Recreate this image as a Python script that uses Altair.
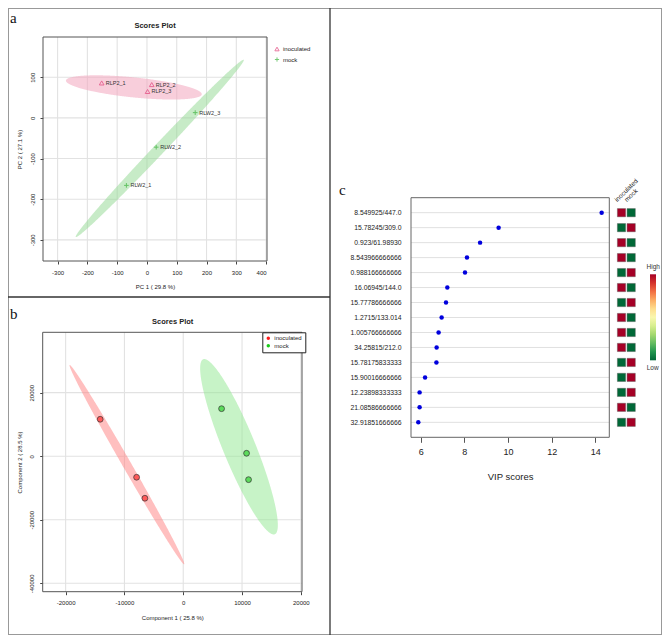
import math
import numpy as np
import pandas as pd
import altair as alt

# ---------------- data ----------------
# Panel a : PCA scores plot
pca_samples = ["RLP2_1", "RLP2_2", "RLP2_3", "RLW2_1", "RLW2_2", "RLW2_3"]
pca_groups = ["inoculated", "inoculated", "inoculated", "mock", "mock", "mock"]
pca_pc1 = [-152, 16, 2, -69, 31, 162]
pca_pc2 = [86, 82, 65, -166, -72, 13]
pca_xticks = [-300, -200, -100, 0, 100, 200, 300, 400]
pca_yticks = [-300, -200, -100, 0, 100]
pca_xdomain = [-349, 403]
pca_ydomain = [-352, 199]
# confidence ellipses: centre, vector to the tip of the long axis, half-width vector
pca_ell_inoc = {"c": (-44, 75), "u": (228, -17), "v": (-3.4, -24.5)}
pca_ell_mock = {"c": (43, -75), "u": (282, 218), "v": (13.3, -9.2)}

# Panel b : PLS-DA scores plot
pls_groups = ["inoculated", "inoculated", "inoculated", "mock", "mock", "mock"]
pls_c1 = [-14120, -7930, -6520, 6520, 10770, 11110]
pls_c2 = [11630, -6620, -13230, 14965, 930, -7375]
pls_xticks = [-20000, -10000, 0, 10000, 20000]
pls_yticks = [-40000, -20000, 0, 20000]
pls_xdomain = [-23900, 20200]
pls_ydomain = [-42640, 39000]
pls_ell_inoc = {"c": (-9580, -2642), "u": (-9740, 31358), "v": (634, 674)}
pls_ell_mock = {"c": (9484, 2977), "u": (-6094, 27533), "v": (2550, 1932)}

# Panel c : VIP scores
vip_features = ["8.549925/447.0", "15.78245/309.0", "0.923/61.98930", "8.543966666666",
                "0.988166666666", "16.06945/144.0", "15.77786666666", "1.2715/133.014",
                "1.005766666666", "34.25815/212.0", "15.78175833333", "15.90016666666",
                "12.23898333333", "21.08586666666", "32.91851666666"]
vip_scores = [14.29, 9.57, 8.72, 8.12, 8.03, 7.22, 7.16, 6.96, 6.82, 6.73, 6.72, 6.20, 5.95, 5.95, 5.89]
heat_groups = ["inoculated", "mock"]
heat_inoculated = [1, 0, 1, 1, 0, 1, 0, 1, 1, 1, 0, 0, 0, 1, 0]
heat_mock = [0, 1, 0, 0, 1, 0, 1, 0, 0, 0, 1, 1, 1, 0, 1]
vip_xticks = [6, 8, 10, 12, 14]
vip_xdomain = [5.556, 14.64]

# ---------------- layout (pixels) ----------------
W, H = 654, 627
A_X, A_Y = [35, 259], [253, 29]
B_X, B_Y = [34.7, 294], [583.7, 324.3]
C_X, C_Y = [403, 601.3], [189.7, 429.3]
HEAT_X = [613.5, 623.2]

FONT = "Liberation Sans"
LBL = "'' + datum.value"


def ellipse_band(e, n=300):
    cx, cy = e["c"]
    ux, uy = e["u"]
    vx, vy = e["v"]
    R = math.hypot(ux, vx)
    phi = math.atan2(vx, ux)
    s = np.linspace(0, math.pi, n)
    t1, t2 = phi + s, phi - s
    return pd.DataFrame({
        "x": cx + R * np.cos(s),
        "lo": cy + uy * np.cos(t1) + vy * np.sin(t1),
        "hi": cy + uy * np.cos(t2) + vy * np.sin(t2),
    })


def xaxis(values, title, axis_y):
    return alt.Axis(orient="bottom", offset=axis_y - H, values=values, labelExpr=LBL, grid=False,
                    domain=False, tickSize=3, tickColor="#444444", labelFontSize=6, labelPadding=5,
                    labelFont=FONT, labelColor="#222222", title=title, titleFont=FONT,
                    titleFontSize=6, titleFontWeight="normal", titleColor="#222222",
                    titleY=25.5, titleBaseline="middle")


def yaxis(values, title, axis_x):
    return alt.Axis(orient="left", offset=-axis_x, values=values, labelExpr=LBL, grid=False,
                    domain=False, tickSize=3, tickColor="#444444", labelFontSize=6, labelPadding=5,
                    labelAngle=270, labelAlign="center", labelBaseline="bottom",
                    labelFont=FONT, labelColor="#222222", title=title, titleFont=FONT,
                    titleFontSize=6, titleFontWeight="normal", titleColor="#222222",
                    titleX=11.3 - axis_x, titleBaseline="middle", titleAlign="center")


def scatter_panel(xticks, yticks, xdom, ydom, xs, ys, axx, axy, ellipses, extra):
    gv = pd.DataFrame({"x": xticks, "lo": ydom[0], "hi": ydom[1]})
    gh = pd.DataFrame({"y": yticks, "lo": xdom[0], "hi": xdom[1]})
    layers = [
        alt.Chart(gv).mark_rule(color="#E2E2E2", strokeWidth=1.1).encode(
            x=alt.X("x:Q", scale=xs, axis=axx), y=alt.Y("lo:Q", scale=ys, axis=axy), y2="hi:Q"),
        alt.Chart(gh).mark_rule(color="#E2E2E2", strokeWidth=1.1).encode(
            y=alt.Y("y:Q", scale=ys, axis=axy), x=alt.X("lo:Q", scale=xs, axis=axx), x2="hi:Q"),
    ]
    for e, color, op in ellipses:
        layers.append(alt.Chart(ellipse_band(e)).mark_area(color=color, opacity=op, orient="vertical").encode(
            x=alt.X("x:Q", scale=xs, axis=axx), y=alt.Y("lo:Q", scale=ys, axis=axy), y2="hi:Q"))
    d = pd.DataFrame({"x0": [xdom[0]], "x1": [xdom[1]], "y0": [ydom[0]], "y1": [ydom[1]]})
    layers.append(alt.Chart(d).mark_rect(fillOpacity=0, stroke="#555555", strokeWidth=1).encode(
        x=alt.X("x0:Q", scale=xs, axis=axx), x2="x1:Q",
        y=alt.Y("y0:Q", scale=ys, axis=axy), y2="y1:Q"))
    layers.extend(extra)
    return alt.layer(*layers)


# ---------------- panel a ----------------
xsA = alt.Scale(domain=pca_xdomain, range=A_X, nice=False, zero=False)
ysA = alt.Scale(domain=pca_ydomain, range=A_Y, nice=False, zero=False)
axXA = xaxis(pca_xticks, "PC 1 ( 29.8 %)", A_Y[0])
axYA = yaxis(pca_yticks, "PC 2 ( 27.1 %)", A_X[0])
dfA = pd.DataFrame({"sample": pca_samples, "group": pca_groups, "pc1": pca_pc1, "pc2": pca_pc2})
legA = alt.Legend(orient="none", legendX=266, legendY=38, title=None, labelFontSize=6,
                  labelFont=FONT, labelColor="#222222", symbolSize=18, symbolStrokeWidth=1,
                  rowPadding=1.5, padding=0, labelOffset=3)
colA = alt.Color("group:N", scale=alt.Scale(domain=["inoculated", "mock"], range=["#E2407A", "#3CB33C"]), legend=legA)
shpA = alt.Shape("group:N", scale=alt.Scale(domain=["inoculated", "mock"],
                                            range=["triangle-up", "M-1,0L1,0M0,-1L0,1"]), legend=legA)
ptsA = alt.Chart(dfA).mark_point(filled=False, size=22, strokeWidth=1).encode(
    x=alt.X("pc1:Q", scale=xsA, axis=axXA), y=alt.Y("pc2:Q", scale=ysA, axis=axYA), color=colA, shape=shpA)
txtA = alt.Chart(dfA).mark_text(align="left", baseline="middle", dx=4, fontSize=5.5, font=FONT,
                                color="#333333").encode(
    x=alt.X("pc1:Q", scale=xsA, axis=axXA), y=alt.Y("pc2:Q", scale=ysA, axis=axYA), text="sample:N")
panelA = scatter_panel(pca_xticks, pca_yticks, pca_xdomain, pca_ydomain, xsA, ysA, axXA, axYA,
                       [(pca_ell_inoc, "#F3A5BE", 0.55), (pca_ell_mock, "#8FD88F", 0.5)], [ptsA, txtA])

# ---------------- panel b ----------------
xsB = alt.Scale(domain=pls_xdomain, range=B_X, nice=False, zero=False)
ysB = alt.Scale(domain=pls_ydomain, range=B_Y, nice=False, zero=False)
axXB = xaxis(pls_xticks, "Component 1 ( 25.8 %)", B_Y[0])
axYB = yaxis(pls_yticks, "Component 2 ( 28.5 %)", B_X[0])
dfB = pd.DataFrame({"group": pls_groups, "c1": pls_c1, "c2": pls_c2})
legB = alt.Legend(orient="none", legendX=254.3, legendY=324.3, title=None, labelFontSize=6,
                  labelFont=FONT, labelColor="#222222", symbolType="circle", symbolSize=12,
                  symbolStrokeWidth=0, symbolOpacity=1, rowPadding=1.5, padding=3, labelOffset=3,
                  strokeColor="#222222", fillColor="#FFFFFF")
ptsB = alt.Chart(dfB).mark_circle(size=34, stroke="#333333", strokeWidth=0.7, fillOpacity=0.62, opacity=1).encode(
    x=alt.X("c1:Q", scale=xsB, axis=axXB), y=alt.Y("c2:Q", scale=ysB, axis=axYB),
    color=alt.Color("group:N", scale=alt.Scale(domain=["inoculated", "mock"], range=["#FF1A1A", "#1ACC1A"]),
                    legend=legB))
panelB = scatter_panel(pls_xticks, pls_yticks, pls_xdomain, pls_ydomain, xsB, ysB, axXB, axYB,
                       [(pls_ell_inoc, "#FF8080", 0.5), (pls_ell_mock, "#90E890", 0.5)], [ptsB])

# ---------------- panel c ----------------
xsC = alt.Scale(domain=vip_xdomain, range=C_X, nice=False, zero=False)
ysC = alt.Scale(type="point", domain=vip_features, range=C_Y, padding=1)
axXC = alt.Axis(orient="bottom", offset=C_Y[1] - H, values=vip_xticks, grid=False, domain=False,
                tickSize=5, tickColor="#555555", labelFontSize=9, labelPadding=5, labelFont=FONT,
                labelColor="#222222", title="VIP scores", titleFont=FONT, titleFontSize=9.5,
                titleFontWeight="normal", titleColor="#222222", titleY=38.7, titleBaseline="middle")
axYC = alt.Axis(orient="left", offset=-C_X[0], ticks=False, domain=False, grid=False,
                labelFontSize=6.8, labelPadding=10, labelFont=FONT, labelColor="#222222",
                labelOverlap=False, labelLimit=200, title=None)
dfC = pd.DataFrame({"feature": vip_features, "vip": vip_scores})
dfH = pd.DataFrame({
    "feature": vip_features * 2,
    "group": [heat_groups[0]] * len(vip_features) + [heat_groups[1]] * len(vip_features),
    "val": heat_inoculated + heat_mock,
})
one = alt.Data(values=[{"d": 0}])

gridC = alt.Chart(dfC).mark_rule(color="#E0E0E0", strokeWidth=1).encode(
    y=alt.Y("feature:N", scale=ysC, axis=axYC), x=alt.value(C_X[0]), x2=alt.value(C_X[1]))
boxC = alt.Chart(one).mark_rect(fillOpacity=0, stroke="#666666", strokeWidth=1).encode(
    x=alt.value(C_X[0]), x2=alt.value(C_X[1]), y=alt.value(C_Y[0]), y2=alt.value(C_Y[1]))
dotsC = alt.Chart(dfC).mark_circle(size=20, color="#0000DD", opacity=1).encode(
    x=alt.X("vip:Q", scale=xsC, axis=axXC),
    y=alt.Y("feature:N", scale=ysC, axis=axYC))
heatC = alt.Chart(dfH).mark_square(size=68, stroke="#555555", strokeWidth=0.4, opacity=1).encode(
    x=alt.X("group:N", scale=alt.Scale(type="point", domain=heat_groups, range=HEAT_X, padding=0),
            axis=alt.Axis(orient="top", offset=-196.5, ticks=False, domain=False, grid=False,
                          labelAngle=315, labelAlign="left", labelBaseline="bottom", labelPadding=2,
                          labelOffset=-4, labelFontSize=6.5, labelFont=FONT, labelColor="#222222",
                          title=None)),
    y=alt.Y("feature:N", scale=ysC, axis=axYC),
    color=alt.Color("val:Q", scale=alt.Scale(scheme="redyellowgreen", reverse=True, domain=[0, 1]),
                    legend=alt.Legend(orient="none", legendX=642, legendY=266.3, title=None,
                                      labelOpacity=0, labelFontSize=1,
                                      gradientLength=86, gradientThickness=6, direction="vertical",
                                      padding=0, gradientStrokeWidth=0)))
panelC = alt.layer(gridC, boxC, dotsC, heatC).resolve_scale(x="independent")

# ---------------- frame, titles, letters ----------------
def txt(s, x, y, size, **kw):
    return alt.Chart(one).mark_text(text=s, fontSize=size, **kw).encode(x=alt.value(x), y=alt.value(y))

deco = [
    alt.Chart(one).mark_rect(fillOpacity=0, stroke="#999999", strokeWidth=2).encode(
        x=alt.value(0), x2=alt.value(W), y=alt.value(0), y2=alt.value(H)),
    alt.Chart(one).mark_rule(color="#333333", strokeWidth=1.3).encode(
        x=alt.value(322), y=alt.value(0), y2=alt.value(H)),
    alt.Chart(one).mark_rule(color="#333333", strokeWidth=1.3).encode(
        x=alt.value(0), x2=alt.value(322), y=alt.value(289)),
    txt("a", 2, 15, 15, font="Liberation Serif", align="left", baseline="alphabetic", color="#111111"),
    txt("b", 2, 311, 15, font="Liberation Serif", align="left", baseline="alphabetic", color="#111111"),
    txt("c", 331, 187, 15, font="Liberation Serif", align="left", baseline="alphabetic", color="#111111"),
    txt("Scores Plot", 147, 18, 7.5, font=FONT, fontWeight="bold", align="center", baseline="middle", color="#222222"),
    txt("Scores Plot", 164.7, 313.7, 7.5, font=FONT, fontWeight="bold", align="center", baseline="middle", color="#222222"),
    txt("High", 645.3, 258.7, 6.5, font=FONT, align="center", baseline="middle", color="#333333"),
    txt("Low", 644.7, 360, 6.5, font=FONT, align="center", baseline="middle", color="#333333"),
]

chart = alt.layer(panelA, panelB, panelC, *deco).resolve_scale(
    x="independent", y="independent", color="independent", shape="independent"
).properties(
    width=W, height=H, autosize=alt.AutoSizeParams(type="none"), padding=0
).configure_view(stroke=None)

chart.save("out.html", embed_options={"renderer": "svg", "actions": False})
